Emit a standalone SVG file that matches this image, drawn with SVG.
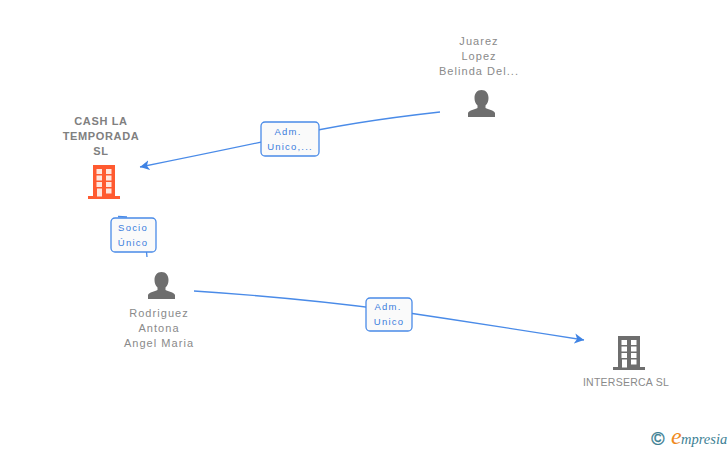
<svg xmlns="http://www.w3.org/2000/svg" width="728" height="450" viewBox="0 0 728 450">
<defs>
<style>
.t{font-family:"Liberation Sans",Arial,sans-serif;font-size:11px;fill:#8a8a8a;text-anchor:middle;letter-spacing:1.05px}
.b{font-weight:bold;letter-spacing:.65px;fill:#808080}
.l{font-family:"Liberation Sans",Arial,sans-serif;font-size:9.500px;fill:#3b7ddd;text-anchor:middle;letter-spacing:1.2px}
.box{fill:#fafafa;stroke:#4a8be8;stroke-width:1.300}
.e{fill:none;stroke:#4a8be8;stroke-width:1.300}
</style>
<marker id="a" markerUnits="userSpaceOnUse" markerWidth="12" markerHeight="12" refX="9.500" refY="6" orient="auto"><path d="M0 1L9.500 6L0 11L2.500 6Z" fill="#3f83e4"/></marker>
<g id="bld"><path d="M5 0H27V31H32V34H0V31H5Z"/></g>
<g id="per"><path d="M13.500 0C18 0 20.500 3.500 20.500 8C20.500 11 19.500 13.500 17.500 15.500V18C20 19.500 26 20 27 23V27H0V23C1 20 7 19.500 9.500 18V15.500C7.500 13.500 6.500 11 6.500 8C6.500 3.500 9 0 13.500 0Z" fill="#6e6e6e"/></g>
</defs>
<rect width="728" height="450" fill="#fff"/>
<g id="connectors">
<path class="e" marker-end="url(#a)" d="M440 112Q350 122 290 136Q210 153 140 167"/>
<path class="e" d="M118 216.500L127 217"/>
<path class="e" d="M146.500 252L147 257"/>
<path class="e" marker-end="url(#a)" d="M194 291Q300 298 389 310Q490 325 584 340"/>
</g>
<g id="node-cash">
<text class="t b" x="101" y="125">CASH LA</text>
<text class="t b" x="101" y="140">TEMPORADA</text>
<text class="t b" x="101" y="155">SL</text>
<use href="#bld" x="88" y="165" fill="#ff5a30"/>
<g fill="#ffe6de"><rect x="96.500" y="169" width="5.500" height="5"/><rect x="106" y="169" width="5.500" height="5"/><rect x="96.500" y="175.500" width="5.500" height="5"/><rect x="106" y="175.500" width="5.500" height="5"/><rect x="96.500" y="182" width="5.500" height="5"/><rect x="106" y="182" width="5.500" height="5"/><rect x="97" y="188.500" width="5" height="8"/><rect x="106" y="188.500" width="5.500" height="5"/></g>
</g>
<g id="node-juarez">
<text class="t" x="479" y="45">Juarez</text>
<text class="t" x="479" y="60">Lopez</text>
<text class="t" x="479" y="75">Belinda Del...</text>
<use href="#per" x="468" y="90"/>
</g>
<g id="node-rodriguez">
<text class="t" x="159" y="317">Rodriguez</text>
<text class="t" x="159" y="332">Antona</text>
<text class="t" x="159" y="347">Angel Maria</text>
<use href="#per" x="148" y="272"/>
</g>
<g id="node-interserca">
<use href="#bld" x="613" y="336" fill="#6e6e6e"/>
<g fill="#fff"><rect x="621.500" y="340" width="5.500" height="5"/><rect x="631" y="340" width="5.500" height="5"/><rect x="621.500" y="346.500" width="5.500" height="5"/><rect x="631" y="346.500" width="5.500" height="5"/><rect x="621.500" y="353" width="5.500" height="5"/><rect x="631" y="353" width="5.500" height="5"/><rect x="622" y="359.500" width="5" height="8"/><rect x="631" y="359.500" width="5.500" height="5"/></g>
<text class="t" x="626" y="386" style="font-size:10.500px;letter-spacing:.25px">INTERSERCA SL</text>
</g>
<g id="label-adm1">
<rect class="box" x="261" y="122" width="58" height="34" rx="4"/>
<text class="l" x="288" y="135">Adm.</text>
<text class="l" x="290" y="150">Unico,...</text>
</g>
<g id="label-socio">
<rect class="box" x="111" y="218" width="45" height="34" rx="4"/>
<text class="l" x="133" y="231">Socio</text>
<text class="l" x="133" y="246">Único</text>
</g>
<g id="label-adm2">
<rect class="box" x="366" y="298" width="46" height="33" rx="4"/>
<text class="l" x="388" y="310">Adm.</text>
<text class="l" x="389" y="325">Unico</text>
</g>
<g id="logo">
<text x="658" y="445" style="font-family:'Liberation Sans',Arial,sans-serif;font-size:18px;fill:#3d7f94;stroke:#3d7f94;stroke-width:.4;text-anchor:middle">©</text>
<text x="671" y="444" style="font-family:'Liberation Serif',serif;font-size:24px;font-style:italic;fill:#f08a1d">e</text>
<text x="681" y="444" style="font-family:'Liberation Serif',serif;font-size:14.500px;font-style:italic;fill:#3d7f94">mpresia</text>
</g>
</svg>
